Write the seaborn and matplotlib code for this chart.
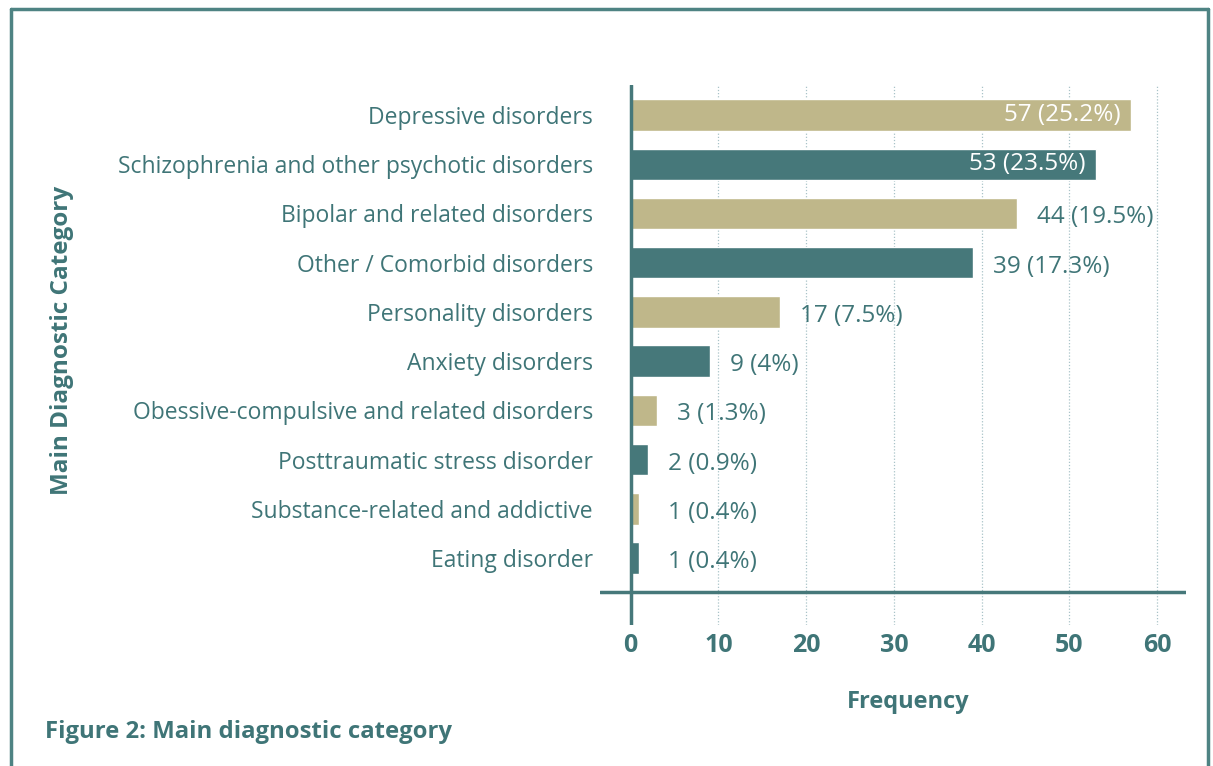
import matplotlib
matplotlib.use("Agg")
import matplotlib.pyplot as plt
import seaborn as sns
import pandas as pd
from matplotlib.lines import Line2D

categories = [
    "Depressive disorders",
    "Schizophrenia and other psychotic disorders",
    "Bipolar and related disorders",
    "Other / Comorbid disorders",
    "Personality disorders",
    "Anxiety disorders",
    "Obessive-compulsive and related disorders",
    "Posttraumatic stress disorder",
    "Substance-related and addictive",
    "Eating disorder",
]
counts = [57, 53, 44, 39, 17, 9, 3, 2, 1, 1]
percents = ["25.2%", "23.5%", "19.5%", "17.3%", "7.5%", "4%", "1.3%", "0.9%", "0.4%", "0.4%"]
xticks = [0, 10, 20, 30, 40, 50, 60]

TAN = "#bfb78a"
TEAL = "#46787a"
TEXT = "#3f7577"
GRID = "#a9c3c8"
FRAME = "#4e8383"

sns.set_style("white")
plt.rcParams["font.family"] = ["Open Sans", "DejaVu Sans"]

df = pd.DataFrame({"cat": categories, "n": counts})
palette = [TAN if i % 2 == 0 else TEAL for i in range(len(categories))]

fig = plt.figure(figsize=(12.13, 7.66), dpi=100)
ax = fig.add_axes([600/1213, 1 - 625/766, 586/1213, 540/766])

sns.barplot(data=df, x="n", y="cat", hue="cat", palette=palette, legend=False,
            width=0.64, saturation=1, ax=ax, zorder=3)

ax.set_xlim(-3.5, 63.3)
ax.set_ylim(10.36, -0.61)
for s in ax.spines.values():
    s.set_visible(False)

for t in xticks[1:]:
    ax.axvline(t, color=GRID, lw=0.9, ls=(0, (1, 1.5)), zorder=1)
ax.axvline(0, color=TEAL, lw=2.5, zorder=4)
ax.axhline(9.69, color=TEAL, lw=2.5, zorder=4)

ax.set_xticks(xticks)
ax.set_xticklabels([str(t) for t in xticks], fontsize=18, fontweight="bold", color=TEXT)
ax.tick_params(axis="x", length=0, pad=6)
ax.tick_params(axis="y", length=0, pad=5, labelsize=16.5, labelcolor=TEXT)
ax.set_xlabel("")
ax.set_ylabel("")

for i, (v, p) in enumerate(zip(counts, percents)):
    label = f"{v} ({p})"
    if v > 50:
        ax.text(v - 1.2, i, label, ha="right", va="center", color="white",
                fontsize=17.5, zorder=5)
    else:
        ax.text(max(v, 2) + 2.3, i + 0.08, label, ha="left", va="center", color=TEXT,
                fontsize=17.5, zorder=5)

fig.text(62/1213, 1 - 340/766, "Main Diagnostic Category", rotation=90, ha="center",
         va="center", fontsize=17.5, fontweight="bold", color=TEXT)
fig.text(908/1213, 1 - 702/766, "Frequency", ha="center", va="center",
         fontsize=17, fontweight="bold", color=TEXT)
fig.text(45/1213, 1 - 732/766, "Figure 2: Main diagnostic category", ha="left",
         va="center", fontsize=17.2, fontweight="bold", color=TEXT)

# frame
fig.add_artist(Line2D([11/1213, 11/1213], [0, 1 - 9/766], color=FRAME, lw=2.5,
                      transform=fig.transFigure))
fig.add_artist(Line2D([11/1213, 1208/1213], [1 - 9/766, 1 - 9/766], color=FRAME, lw=2.5,
                      transform=fig.transFigure))
fig.add_artist(Line2D([1208/1213, 1208/1213], [0, 1 - 9/766], color=FRAME, lw=2.5,
                      transform=fig.transFigure))

fig.savefig("out.png", dpi=100)
